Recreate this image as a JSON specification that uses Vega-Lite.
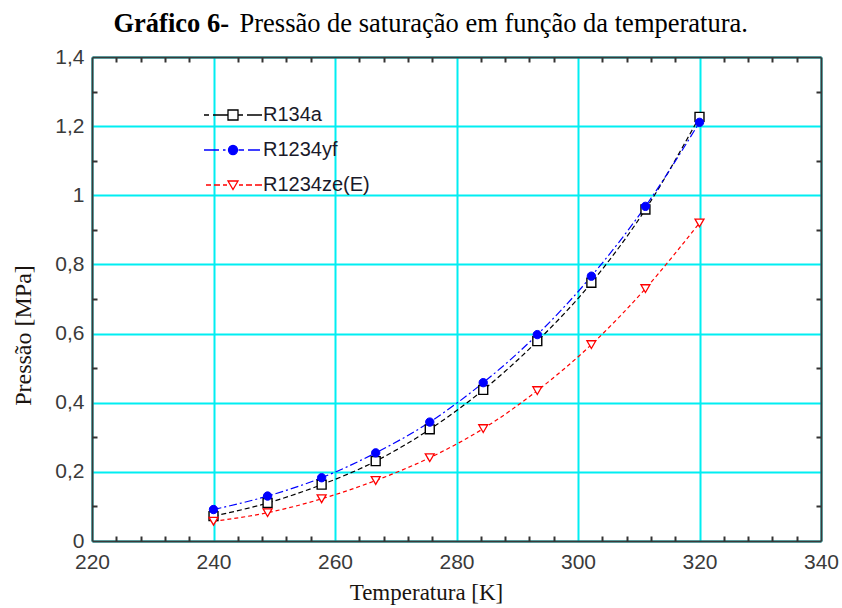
{
  "$schema": "https://vega.github.io/schema/vega-lite/v6.json",
  "autosize": "none",
  "width": 729,
  "height": 484,
  "padding": {"left": 92, "top": 57, "right": 21, "bottom": 67},
  "background": "white",
  "config": {"view": {"stroke": null}},
  "data": {
    "values": [
      {"series": "R134a", "T": 240, "P": 0.072},
      {"series": "R134a", "T": 248.9, "P": 0.110},
      {"series": "R134a", "T": 257.8, "P": 0.163},
      {"series": "R134a", "T": 266.7, "P": 0.231},
      {"series": "R134a", "T": 275.6, "P": 0.323},
      {"series": "R134a", "T": 284.4, "P": 0.437},
      {"series": "R134a", "T": 293.3, "P": 0.578},
      {"series": "R134a", "T": 302.2, "P": 0.747},
      {"series": "R134a", "T": 311.1, "P": 0.959},
      {"series": "R134a", "T": 320, "P": 1.227},
      {"series": "R1234yf", "T": 240, "P": 0.091},
      {"series": "R1234yf", "T": 248.9, "P": 0.130},
      {"series": "R1234yf", "T": 257.8, "P": 0.183},
      {"series": "R1234yf", "T": 266.7, "P": 0.255},
      {"series": "R1234yf", "T": 275.6, "P": 0.344},
      {"series": "R1234yf", "T": 284.4, "P": 0.458},
      {"series": "R1234yf", "T": 293.3, "P": 0.597},
      {"series": "R1234yf", "T": 302.2, "P": 0.766},
      {"series": "R1234yf", "T": 311.1, "P": 0.968},
      {"series": "R1234yf", "T": 320, "P": 1.211},
      {"series": "R1234ze(E)", "T": 240, "P": 0.057},
      {"series": "R1234ze(E)", "T": 248.9, "P": 0.082},
      {"series": "R1234ze(E)", "T": 257.8, "P": 0.122},
      {"series": "R1234ze(E)", "T": 266.7, "P": 0.175},
      {"series": "R1234ze(E)", "T": 275.6, "P": 0.241},
      {"series": "R1234ze(E)", "T": 284.4, "P": 0.325},
      {"series": "R1234ze(E)", "T": 293.3, "P": 0.435},
      {"series": "R1234ze(E)", "T": 302.2, "P": 0.568},
      {"series": "R1234ze(E)", "T": 311.1, "P": 0.730},
      {"series": "R1234ze(E)", "T": 320, "P": 0.920}
    ]
  },
  "resolve": {"axis": {"x": "independent", "y": "independent"}},
  "layer": [
    {
      "transform": [{"filter": "datum.series == 'R134a'"}],
      "mark": {"type": "line", "interpolate": "monotone", "strokeWidth": 1.2, "stroke": "#000000", "strokeDash": [5, 3]},
      "encoding": {
        "x": {
          "field": "T", "type": "quantitative",
          "scale": {"domain": [220, 340], "nice": false, "zero": false},
          "axis": {
            "values": [220, 240, 260, 280, 300, 320, 340],
            "grid": true, "gridColor": "#00eef2", "gridWidth": 2,
            "ticks": false,
            "domain": true, "domainColor": "#3a3a3a", "domainWidth": 2,
            "labelFont": "Liberation Sans", "labelFontSize": 21, "labelColor": "#3a3a3a",
            "labelPadding": 10, "labelFlush": false, "labelOverlap": false,
            "title": "Temperatura [K]",
            "titleFont": "Liberation Serif", "titleFontSize": 23, "titleFontWeight": "normal",
            "titleColor": "#1a1410",
            "titleX": 334, "titleY": 58, "titleBaseline": "alphabetic", "titleAlign": "center"
          }
        },
        "y": {
          "field": "P", "type": "quantitative",
          "scale": {"domain": [0, 1.4], "nice": false, "zero": false},
          "axis": {
            "values": [0, 0.2, 0.4, 0.6, 0.8, 1, 1.2, 1.4],
            "labelExpr": "replace(format(datum.value, '~g'), '.', ',')",
            "grid": true, "gridColor": "#00eef2", "gridWidth": 2,
            "ticks": false,
            "domain": true, "domainColor": "#3a3a3a", "domainWidth": 2,
            "labelFont": "Liberation Sans", "labelFontSize": 21, "labelColor": "#3a3a3a",
            "labelPadding": 8, "labelFlush": false, "labelOverlap": false,
            "title": "Pressão [MPa]",
            "titleFont": "Liberation Serif", "titleFontSize": 24, "titleFontWeight": "normal",
            "titleColor": "#1a1410",
            "titleX": -69, "titleY": 278, "titleAngle": -90, "titleBaseline": "middle", "titleAlign": "center"
          }
        }
      }
    },
    {
      "transform": [{"filter": "datum.series == 'R1234yf'"}],
      "mark": {"type": "line", "interpolate": "monotone", "strokeWidth": 1.2, "stroke": "#0000ff", "strokeDash": [8, 3, 2, 3]},
      "encoding": {
        "x": {
          "field": "T", "type": "quantitative",
          "axis": {
            "orient": "bottom",
            "values": [224, 228, 232, 236, 244, 248, 252, 256, 264, 268, 272, 276, 284, 288, 292, 296, 304, 308, 312, 316, 324, 328, 332, 336],
            "labels": false, "grid": false, "domain": false, "title": null,
            "ticks": true, "tickSize": 5, "tickWidth": 2, "tickColor": "#333333", "offset": -5
          }
        },
        "y": {
          "field": "P", "type": "quantitative",
          "axis": {
            "orient": "left",
            "values": [0.1, 0.3, 0.5, 0.7, 0.9, 1.1, 1.3],
            "labels": false, "grid": false, "domain": false, "title": null,
            "ticks": true, "tickSize": 5, "tickWidth": 2, "tickColor": "#333333", "offset": -5
          }
        }
      }
    },
    {
      "transform": [{"filter": "datum.series == 'R1234ze(E)'"}],
      "mark": {"type": "line", "interpolate": "monotone", "strokeWidth": 1.2, "stroke": "#ff0000", "strokeDash": [4, 3]},
      "encoding": {
        "x": {
          "field": "T", "type": "quantitative",
          "axis": {
            "orient": "top",
            "values": [224, 228, 232, 236, 244, 248, 252, 256, 264, 268, 272, 276, 284, 288, 292, 296, 304, 308, 312, 316, 324, 328, 332, 336],
            "labels": false, "grid": false, "domain": false,
            "ticks": true, "tickSize": 5, "tickWidth": 2, "tickColor": "#333333", "offset": -5,
            "title": "Pressão de saturação em função da temperatura.",
            "titleFont": "Liberation Serif", "titleFontSize": 26.5, "titleFontWeight": "normal", "titleColor": "#000000",
            "titleX": 147, "titleY": -31, "titleAlign": "left", "titleBaseline": "alphabetic", "titleAngle": 0
          }
        },
        "y": {
          "field": "P", "type": "quantitative",
          "axis": {
            "orient": "right",
            "values": [0.1, 0.3, 0.5, 0.7, 0.9, 1.1, 1.3],
            "labels": false, "grid": false, "domain": false, "title": null,
            "ticks": true, "tickSize": 5, "tickWidth": 2, "tickColor": "#333333", "offset": -5
          }
        }
      }
    },
    {
      "transform": [{"filter": "datum.series == 'R134a'"}],
      "mark": {"type": "point", "shape": "square", "filled": true, "fill": "#ffffff", "stroke": "#000000", "strokeWidth": 1.4, "size": 80, "opacity": 1},
      "encoding": {
        "x": {
          "field": "T", "type": "quantitative",
          "axis": {
            "orient": "top", "labels": false, "ticks": false, "grid": false,
            "domain": true, "domainColor": "#3a3a3a", "domainWidth": 2,
            "title": "Gráfico 6-",
            "titleFont": "Liberation Serif", "titleFontSize": 26.5, "titleFontWeight": "bold", "titleColor": "#000000",
            "titleX": 21, "titleY": -26, "titleAlign": "left", "titleBaseline": "alphabetic", "titleAngle": 0
          }
        },
        "y": {
          "field": "P", "type": "quantitative",
          "axis": {
            "orient": "right", "labels": false, "ticks": false, "grid": false, "title": null,
            "domain": true, "domainColor": "#3a3a3a", "domainWidth": 2
          }
        }
      }
    },
    {
      "transform": [{"filter": "datum.series == 'R1234yf'"}],
      "mark": {"type": "point", "shape": "circle", "filled": true, "fill": "#0000ff", "stroke": "#0000ff", "strokeWidth": 1, "size": 70, "opacity": 1},
      "encoding": {
        "x": {"field": "T", "type": "quantitative", "axis": null},
        "y": {"field": "P", "type": "quantitative", "axis": null}
      }
    },
    {
      "transform": [{"filter": "datum.series == 'R1234ze(E)'"}],
      "mark": {"type": "point", "shape": "triangle-down", "filled": true, "fill": "#ffffff", "stroke": "#ff0000", "strokeWidth": 1.3, "size": 80, "opacity": 1},
      "encoding": {
        "x": {"field": "T", "type": "quantitative", "axis": null},
        "y": {"field": "P", "type": "quantitative", "axis": null}
      }
    },
    {
      "transform": [{"filter": "datum.P < 0"}],
      "mark": {"type": "point", "filled": true, "opacity": 1},
      "encoding": {
        "x": {"field": "T", "type": "quantitative", "axis": null},
        "y": {"field": "P", "type": "quantitative", "axis": null},
        "shape": {
          "field": "series", "type": "nominal",
          "scale": {
            "domain": ["R134a", "R1234yf", "R1234ze(E)"],
            "range": [
              "M-2.9,0H-2.4M-2.0,0H-0.5M0.5,0H1.0M1.4,0H2.9M-0.5,-0.5H0.5V0.5H-0.5Z",
              "M-2.9,0H-1.4M-1.0,0H-0.75M0.55,0H1.1M1.5,0H2.7M-0.45,0A0.45,0.45,0,1,0,0.45,0A0.45,0.45,0,1,0,-0.45,0Z",
              "M-2.7,0H-2.2M-1.9,0H-1.3M-1.0,0H-0.6M0.6,0H1.0M1.3,0H1.9M2.2,0H2.9M-0.5,-0.4L0.5,-0.4L0,0.45Z"
            ]
          },
          "legend": {"title": null, "orient": "none", "legendX": 130, "legendY": 47, "symbolSize": 400, "symbolStrokeWidth": 1.3, "symbolOpacity": 1, "labelFont": "Liberation Sans", "labelFontSize": 20, "labelColor": "#1a1a2a", "labelOffset": 19, "rowPadding": 14, "padding": 0}
        },
        "stroke": {
          "field": "series", "type": "nominal",
          "scale": {"domain": ["R134a", "R1234yf", "R1234ze(E)"], "range": ["#000000", "#0000ff", "#ff0000"]},
          "legend": {"title": null, "orient": "none", "legendX": 130, "legendY": 47, "symbolSize": 400, "symbolStrokeWidth": 1.3, "symbolOpacity": 1, "labelFont": "Liberation Sans", "labelFontSize": 20, "labelColor": "#1a1a2a", "labelOffset": 19, "rowPadding": 14, "padding": 0}
        },
        "fill": {
          "field": "series", "type": "nominal",
          "scale": {"domain": ["R134a", "R1234yf", "R1234ze(E)"], "range": ["#ffffff", "#0000ff", "#ffffff"]},
          "legend": {"title": null, "orient": "none", "legendX": 130, "legendY": 47, "symbolSize": 400, "symbolStrokeWidth": 1.3, "symbolOpacity": 1, "labelFont": "Liberation Sans", "labelFontSize": 20, "labelColor": "#1a1a2a", "labelOffset": 19, "rowPadding": 14, "padding": 0}
        }
      }
    }
  ]
}
